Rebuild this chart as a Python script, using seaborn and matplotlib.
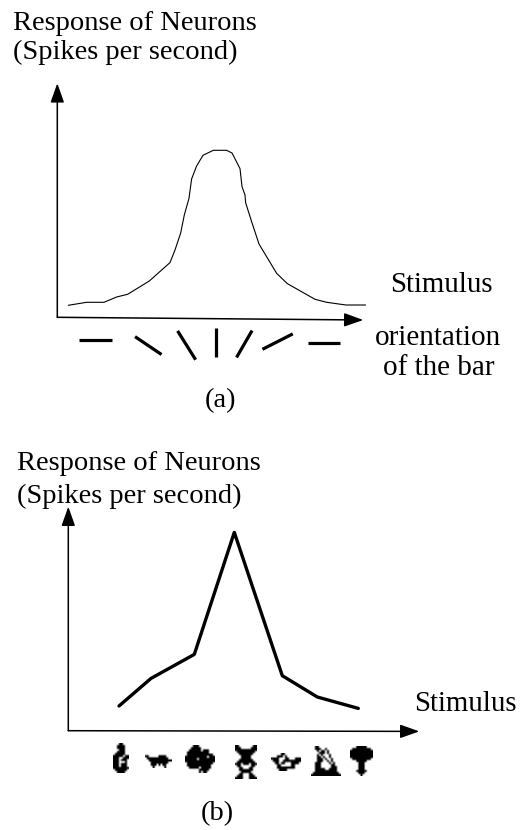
#! /usr/bin/env python
# -*- coding: utf-8 -*-
"""
Tuning curves of neurons: (a) bar orientation, (b) object stimulus.
"""
import matplotlib
matplotlib.use('Agg')
import numpy as np
import matplotlib.pyplot as plt
import seaborn as sns

# panel (a)
orient_x = [11, 29.3, 46.7, 59.3, 70.3, 92, 112.7, 117.7, 123.3, 127, 131.7, 134.3, 139.3, 145.7, 156,
            169.3, 174.7, 182.7, 184.7, 187.7, 188.3, 194.3, 201.7, 219.3, 230, 257.7, 269.3, 288.7, 308.3]
orient_resp = [12, 15, 15, 20.3, 23, 36.3, 54.7, 67.3, 84, 102.3, 119, 138.3, 151.3, 162, 167,
               167, 164.3, 148.7, 130.7, 122.3, 114.7, 95.7, 73.3, 44, 33.7, 18, 15, 12.3, 12.3]
bar_angles = [0, -34, -58, 90, 60, 27, 0]
bar_x = [37.7, 91, 129.3, 158.7, 187, 220.3, 267]
bar_y = [-22.7, -28.3, -28, -25.3, -26.7, -24.3, -25.3]
bar_len = [33, 32, 34, 29, 31, 34, 32]

# panel (b)
object_x = [50.7, 82.7, 126, 166, 214, 249, 290]
object_resp = [24.7, 52.3, 76.3, 198.3, 55, 33.7, 22.3]

ylabel_lines = ["Response of Neurons", "(Spikes per second)"]

icon_bottle = ["...##...", "..####..", "..####..", "...###..", "..####..", ".#####..", "#####.##", "###..###",
               "###.###.", "###...#.", "###.###.", "###.###.", "########", ".######.", "..####.."]
icon_pig = ["..............", "##.....####...", ".###########..", "..############", "...#########..",
            "...###.#.##...", "....#.....#..."]
icon_blob = ["....###........", "...#####.......", "..######.###...", ".###########...", ".#############.",
             "###########.###", "######.########", "###############", ".#############.", ".############..",
             "..#####.#####..", ".......#####...", ".......#.##...."]
icon_cat = ["##.......##", "###.....###", "###########", ".#########.", "..#######..", "...#####...", "...#####...",
            "..#######..", ".#########.", "###.###.###", ".##.....##.", "..##...##..", "..#######..", "...#####...",
            "..##...##..", ".###...###.", "####...####"]
icon_duck = [".....##........", "...###.#.......", "####...##...###", ".###..#########", "..##.##...####.",
             "...##.....##...", "...#########...", "....####......."]
icon_statue = ["..##...........", "..###..#.......", "...#.##.#......", "....###.#......", "...#.#...#.....",
               "...##.#..#.....", "...###.#..#....", "...###..#.#....", "..###....#.#...", "..###.....##...",
               "..###.....###..", "..#####..####..", "..###########..", ".#############.", "###############"]
icon_tree = ["...#####...", ".#########.", "###########", "###########", "###########", "###########", ".#########.",
             "...#####...", "....###....", "....###....", "....###....", "....###....", "...#####...", "....###....",
             ".....#....."]
icons = [icon_bottle, icon_pig, icon_blob, icon_cat, icon_duck, icon_statue, icon_tree]
icon_x = [52.7, 90.2, 131.7, 177.7, 217.7, 257.7, 293.2]
icon_y = [-27.3, -29.8, -28.3, -31.3, -31.3, -30.3, -30.3]
icon_w = [16, 27, 30, 22, 30, 30, 23]
icon_h = [30, 15, 28, 34, 18, 30, 30]

FIG_W, FIG_H = 520, 830


def px_axes(fig, left, bottom, xmax, ymin, ymax):
    # axes whose data units are one image pixel, origin at the drawn axis corner
    ax = fig.add_axes([left / FIG_W, (FIG_H - bottom + ymin) / FIG_H, xmax / FIG_W, (ymax - ymin) / FIG_H])
    ax.set_xlim(0, xmax)
    ax.set_ylim(ymin, ymax)
    ax.axis('off')
    return ax


def draw_arrows(ax, xtip, xtip_y, ytip):
    arrow = dict(arrowstyle='-|>,head_length=0.9,head_width=0.32', color='black', lw=1.1,
                 shrinkA=0, shrinkB=0, mutation_scale=13)
    ax.annotate('', xy=(xtip, xtip_y), xytext=(0, 0), arrowprops=arrow, annotation_clip=False)
    ax.annotate('', xy=(0, ytip), xytext=(0, 0), arrowprops=arrow, annotation_clip=False)


sns.set_theme(style='white')
plt.rcParams['font.family'] = ['Liberation Serif', 'DejaVu Serif']

fig = plt.figure(figsize=(FIG_W / 100, FIG_H / 100), dpi=100, facecolor='white')

# (a)
ax_a = px_axes(fig, 57.3, 317.3, 330, -50, 240)
sns.lineplot(x=orient_x, y=orient_resp, ax=ax_a, color='black', lw=0.8, sort=False, errorbar=None)
draw_arrows(ax_a, 306, -2.7, 234)
for x, y, a, l in zip(bar_x, bar_y, bar_angles, bar_len):
    dx = np.cos(np.radians(a)) * l / 2
    dy = np.sin(np.radians(a)) * l / 2
    ax_a.plot([x - dx, x + dx], [y - dy, y + dy], color='black', lw=2.3, solid_capstyle='butt')

# (b)
ax_b = px_axes(fig, 68.3, 730.7, 360, -50, 230)
sns.lineplot(x=object_x, y=object_resp, ax=ax_b, color='black', lw=2.4, sort=False, errorbar=None)
draw_arrows(ax_b, 351, -0.7, 224)
for grid, cx, cy, w, h in zip(icons, icon_x, icon_y, icon_w, icon_h):
    img = np.array([[c == '#' for c in row] for row in grid], dtype=float)
    ax_b.imshow(img, cmap='gray_r', vmin=0, vmax=1, aspect='auto', interpolation='bilinear',
                extent=(cx - w / 2, cx + w / 2, cy - h / 2, cy + h / 2), zorder=3)
ax_b.set_xlim(0, 360)
ax_b.set_ylim(-50, 230)

# all the labels sit at figure level, placed in image pixels
def label(x, y, s, ha='left', size=20.5):
    fig.text(x / FIG_W, 1 - y / FIG_H, s, ha=ha, va='baseline', fontsize=size, color='black')

label(13, 30, ylabel_lines[0])
label(13, 59, ylabel_lines[1])
label(390, 292, "Stimulus", size=20.8)
label(438.5, 345, "orientation", ha='center', size=21)
label(439, 375, "of the bar", ha='center', size=21)
label(220, 407, "(a)", ha='center')
label(17, 470, ylabel_lines[0])
label(17, 503, ylabel_lines[1])
label(414, 711, "Stimulus", size=20.8)
label(217, 820, "(b)", ha='center')

fig.savefig('out.png', dpi=100)
